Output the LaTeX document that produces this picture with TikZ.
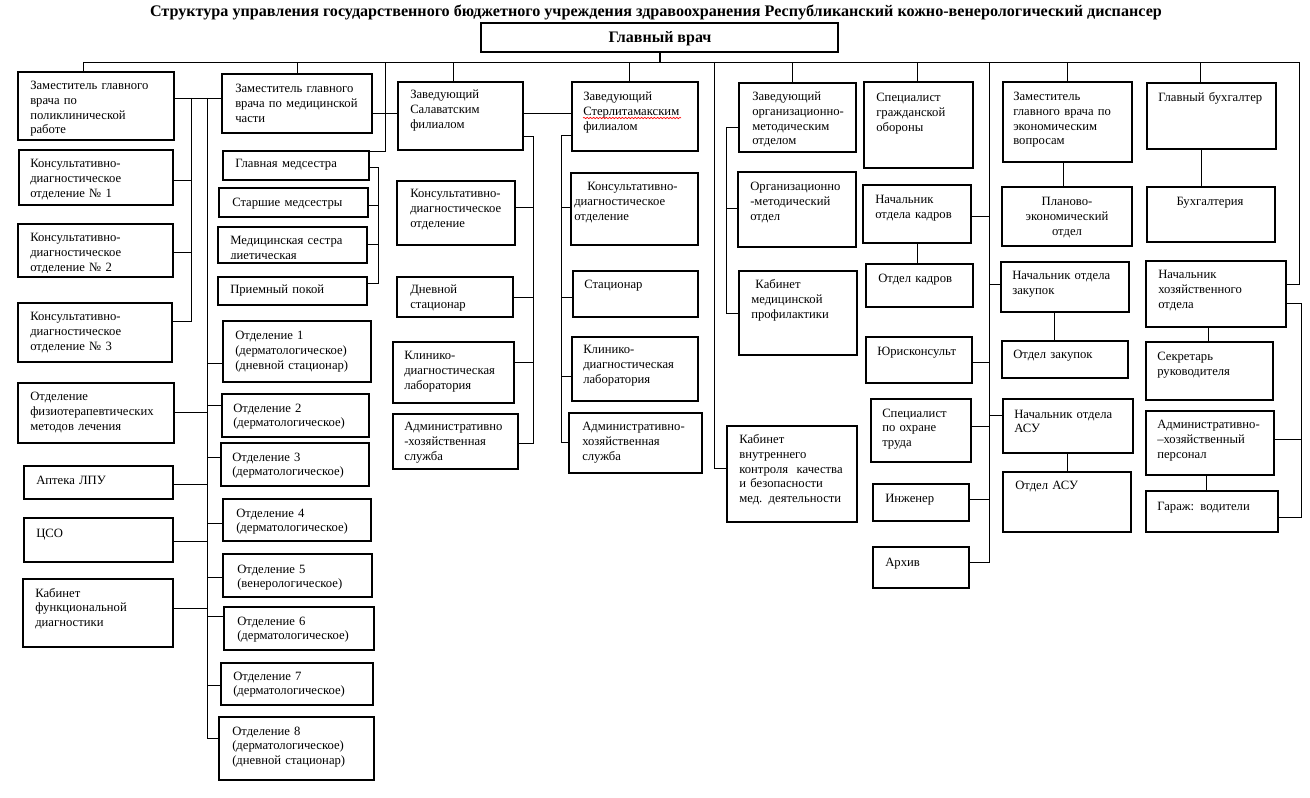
\documentclass[tikz,border=0pt]{standalone}
\usepackage{fontspec}
\setmainfont{Liberation Serif}
\usetikzlibrary{fit,decorations.pathmorphing}
\newcommand\bx[8]{%
  \node[boxs, fit={(#2,#3)(#4,#5)}] (#1) {};
  \begin{scope}
    \clip (#2,#3) rectangle (#4,#5-4);
    \node[txt] at (#2+#6,#3+#7) {#8};
  \end{scope}}
\newcommand\cbx[8]{%
  \node[boxs, fit={(#2,#3)(#4,#5)}] (#1) {};
  \node[ctxt] at (#6,#3+#7) {#8};}
\begin{document}
\begin{tikzpicture}[x=0.75pt,y=-0.75pt,
  boxs/.style={draw=black, line width=0.8pt, inner sep=0pt, outer sep=0pt},
  txt/.style={anchor=base west, inner sep=0pt, align=left, text width=160pt, font=\fontsize{9.5}{10.9}\selectfont},
  ctxt/.style={anchor=base, inner sep=0pt, align=center, text width=90pt, font=\fontsize{9.5}{10.9}\selectfont},
  ln/.style={draw=black, line width=0.7pt}]
\useasboundingbox[fill=white] (0,0) rectangle (1310,798);

% title and chief
\node[anchor=base, inner sep=0pt, font=\fontsize{12.1}{14}\selectfont\bfseries] (title) at (656,17) {Структура управления государственного бюджетного учреждения здравоохранения Республиканский кожно-венерологический диспансер};
\node[boxs, fit={(481,23)(838,52)}] (chief) {};
\node[anchor=base, inner sep=0pt, font=\fontsize{12}{14}\selectfont\bfseries] at (660,43) {Главный врач};

% bus
\coordinate (busL) at (83,62);
\coordinate (busR) at (1299,62);
\draw[ln] (busL) -- (busR);
\draw[line width=2pt] (chief.south -| 660,0) -- (busL -| 660,0);

% ---------- column 1 ----------
\bx{zampol}{18}{72}{174}{140}{12}{18}{Заместитель главного\\врача по\\поликлинической\\работе}
\bx{kdoA}{19}{150}{173}{205}{11}{18}{Консультативно-\\диагностическое\\отделение № 1}
\bx{kdoB}{18}{224}{173}{277}{12}{18}{Консультативно-\\диагностическое\\отделение № 2}
\bx{kdoC}{18}{303}{172}{362}{12}{18}{Консультативно-\\диагностическое\\отделение № 3}
\bx{fizio}{18}{383}{174}{443}{12}{18}{Отделение\\физиотерапевтических\\методов лечения}
\bx{apteka}{24}{466}{173}{499}{12}{18}{Аптека ЛПУ}
\bx{cso}{24}{518}{173}{562}{12}{19}{ЦСО}
\bx{funk}{23}{579}{173}{647}{12}{18}{Кабинет\\функциональной\\диагностики}
\draw[ln] (busL) -- (busL |- zampol.north);

% ---------- column 2 ----------
\bx{zammed}{222}{74}{372}{133}{13}{19}{Заместитель главного\\врача по медицинской\\части}
\bx{glmed}{223}{151}{369}{180}{12}{17}{Главная медсестра}
\bx{starsh}{219}{188}{368}{217}{13}{19}{Старшие медсестры}
\bx{dietsis}{218}{227}{367}{263}{12}{18}{Медицинская сестра\\диетическая}
\bx{priem}{218}{277}{367}{305}{12}{17}{Приемный покой}
\bx{otdA}{223}{321}{371}{382}{12}{19}{Отделение 1\\(дерматологическое)\\(дневной стационар)}
\bx{otdB}{222}{394}{369}{437}{11}{18}{Отделение 2\\(дерматологическое)}
\bx{otdC}{221}{443}{369}{486}{11}{18}{Отделение 3\\(дерматологическое)}
\bx{otdD}{223}{499}{371}{541}{13}{18}{Отделение 4\\(дерматологическое)}
\bx{otdE}{223}{554}{372}{597}{14}{19}{Отделение 5\\(венерологическое)}
\bx{otdF}{224}{607}{374}{650}{13}{18}{Отделение 6\\(дерматологическое)}
\bx{otdG}{221}{663}{373}{705}{12}{17}{Отделение 7\\(дерматологическое)}
\bx{otdH}{219}{717}{374}{780}{13}{18}{Отделение 8\\(дерматологическое)\\(дневной стационар)}
\draw[ln] (zammed.north) -- (zammed.north |- busL);

% connectors columns 1-2
\draw[ln] (zampol.east |- 0,98) -- (zammed.west |- 0,98);
\coordinate (tA) at (191,98);
\coordinate (tAb) at (191,321);
\draw[ln] (tA) -- (tAb) -- (kdoC.east |- tAb);
\draw[ln] (kdoA.east |- 0,180) -- (tA |- 0,180);
\draw[ln] (kdoB.east |- 0,252) -- (tA |- 0,252);
\coordinate (tB) at (207,98);
\coordinate (tBb) at (207,738);
\draw[ln] (tB) -- (tBb) -- (otdH.west |- tBb);
\draw[ln] (fizio.east |- 0,412) -- (tB |- 0,412);
\draw[ln] (apteka.east |- 0,484) -- (tB |- 0,484);
\draw[ln] (cso.east |- 0,541) -- (tB |- 0,541);
\draw[ln] (funk.east |- 0,608) -- (tB |- 0,608);
\draw[ln] (otdA.west |- 0,363) -- (tB |- 0,363);
\draw[ln] (otdB.west |- 0,405) -- (tB |- 0,405);
\draw[ln] (otdC.west |- 0,457) -- (tB |- 0,457);
\draw[ln] (otdD.west |- 0,523) -- (tB |- 0,523);
\draw[ln] (otdE.west |- 0,577) -- (tB |- 0,577);
\draw[ln] (otdF.west |- 0,616) -- (tB |- 0,616);
\draw[ln] (otdG.west |- 0,685) -- (tB |- 0,685);

% head nurse
\coordinate (tC) at (385,62);
\draw[ln] (glmed.north east) -- (tC |- glmed.north east) -- (tC);
\coordinate (tD) at (378,167);
\coordinate (tDb) at (378,283);
\draw[ln] (glmed.east |- tD) -- (tD) -- (tDb) -- (priem.east |- tDb);
\draw[ln] (starsh.east |- 0,205) -- (tD |- 0,205);
\draw[ln] (dietsis.east |- 0,244) -- (tD |- 0,244);

% ---------- column 3 ----------
\bx{salav}{398}{82}{523}{150}{12}{17}{Заведующий\\Салаватским\\филиалом}
\bx{kdoS}{397}{181}{515}{245}{13}{17}{Консультативно-\\диагностическое\\отделение}
\bx{dnevS}{397}{277}{513}{317}{13}{17}{Дневной\\стационар}
\bx{klinS}{393}{342}{514}{403}{11}{18}{Клинико-\\диагностическая\\лаборатория}
\bx{admS}{393}{414}{518}{469}{11}{17}{Административно\\-хозяйственная\\служба}
\draw[ln] (salav.north -| 453,0) -- (busL -| 453,0);
\coordinate (tE) at (533,136);
\coordinate (tEb) at (533,443);
\draw[ln] (salav.east |- tE) -- (tE) -- (tEb) -- (admS.east |- tEb);
\draw[ln] (kdoS.east |- 0,207) -- (tE |- 0,207);
\draw[ln] (dnevS.east |- 0,297) -- (tE |- 0,297);
\draw[ln] (klinS.east |- 0,362) -- (tE |- 0,362);

% ---------- column 4 ----------
\bx{sterl}{572}{82}{698}{151}{11}{19}{Заведующий\\Стерлитамакским\\филиалом}
\draw[red, line width=0.5pt, decorate, decoration={snake, amplitude=0.5pt, segment length=2.4pt}] (583,118) -- (681,118);
\bx{kdoSt}{571}{173}{698}{245}{3}{18}{\hspace*{9.75pt}Консультативно-\\диагностическое\\отделение}
\bx{stacSt}{573}{271}{698}{317}{11}{18}{Стационар}
\bx{klinSt}{572}{337}{698}{401}{11}{17}{Клинико-\\диагностическая\\лаборатория}
\bx{admSt}{569}{413}{702}{473}{13}{18}{Административно-\\хозяйственная\\служба}
\draw[ln] (sterl.north -| 629,0) -- (busL -| 629,0);
\draw[ln] (zammed.east |- 0,113) -- (salav.west |- 0,113);
\draw[ln] (salav.east |- 0,113) -- (sterl.west |- 0,113);
\coordinate (tF) at (561,135);
\coordinate (tFb) at (561,442);
\draw[ln] (sterl.west |- tF) -- (tF) -- (tFb) -- (admSt.west |- tFb);
\draw[ln] (kdoSt.west |- 0,207) -- (tF |- 0,207);
\draw[ln] (stacSt.west |- 0,297) -- (tF |- 0,297);
\draw[ln] (klinSt.west |- 0,376) -- (tF |- 0,376);

% ---------- column 5 ----------
\bx{omoH}{739}{83}{856}{152}{13}{18}{Заведующий\\организационно-\\методическим\\отделом}
\bx{omoD}{738}{172}{856}{247}{12}{19}{Организационно\\-методический\\отдел}
\bx{kabprof}{739}{271}{857}{355}{12}{18}{\ Кабинет\\медицинской\\профилактики}
\bx{kabvk}{727}{426}{857}{522}{12}{18}{Кабинет\\внутреннего\\контроля\ \ качества\\и безопасности\\мед. деятельности}
\draw[ln] (omoH.north -| 792,0) -- (busL -| 792,0);
\coordinate (tG) at (714,62);
\coordinate (tGb) at (714,468);
\draw[ln] (tG) -- (tGb) -- (kabvk.west |- tGb);
\coordinate (tH) at (726,127);
\coordinate (tHb) at (726,313);
\draw[ln] (omoH.west |- tH) -- (tH) -- (tHb) -- (kabprof.west |- tHb);
\draw[ln] (omoD.west |- 0,208) -- (tH |- 0,208);

% ---------- column 6 ----------
\bx{go}{864}{82}{973}{168}{12}{20}{Специалист\\гражданской\\обороны}
\bx{nachK}{863}{185}{971}{243}{12}{19}{Начальник\\отдела кадров}
\bx{otdK}{866}{264}{973}{307}{12}{19}{Отдел кадров}
\bx{yur}{866}{337}{972}{383}{11}{19}{Юрисконсульт}
\bx{ohr}{871}{399}{971}{462}{11}{18}{Специалист\\по охране\\труда}
\bx{inzh}{873}{484}{969}{521}{12}{18}{Инженер}
\bx{arh}{873}{547}{969}{588}{12}{19}{Архив}
\draw[ln] (go.north -| 917,0) -- (busL -| 917,0);
\draw[ln] (nachK.south -| 917,0) -- (otdK.north -| 917,0);

% ---------- column 7 ----------
\bx{zamEk}{1003}{82}{1132}{162}{10}{19}{Заместитель\\главного врача по\\экономическим\\вопросам}
\cbx{plan}{1002}{187}{1132}{246}{1067}{19}{Планово-\\экономический\\отдел}
\bx{nachZ}{1001}{262}{1129}{312}{11}{18}{Начальник отдела\\закупок}
\bx{otdZ}{1002}{341}{1128}{378}{11}{18}{Отдел закупок}
\bx{nachA}{1003}{399}{1133}{453}{11}{19}{Начальник отдела\\АСУ}
\bx{otdAsu}{1003}{472}{1131}{532}{12}{17}{Отдел АСУ}
\draw[ln] (zamEk.north -| 1067,0) -- (busL -| 1067,0);
\draw[ln] (zamEk.south -| 1063,0) -- (plan.north -| 1063,0);
\draw[ln] (nachZ.south -| 1054,0) -- (otdZ.north -| 1054,0);
\draw[ln] (nachA.south -| 1067,0) -- (otdAsu.north -| 1067,0);

% trunk between columns 6 and 7
\coordinate (tI) at (989,62);
\coordinate (tIb) at (989,562);
\draw[ln] (tI) -- (tIb) -- (arh.east |- tIb);
\draw[ln] (nachK.east |- 0,216) -- (tI |- 0,216);
\draw[ln] (yur.east |- 0,362) -- (tI |- 0,362);
\draw[ln] (ohr.east |- 0,426) -- (tI |- 0,426);
\draw[ln] (inzh.east |- 0,499) -- (tI |- 0,499);
\draw[ln] (nachZ.west |- 0,284) -- (tI |- 0,284);
\draw[ln] (nachA.west |- 0,415) -- (tI |- 0,415);

% ---------- column 8 ----------
\bx{glbuh}{1147}{83}{1276}{149}{11}{19}{Главный бухгалтер}
\cbx{buh}{1147}{187}{1275}{242}{1210}{19}{Бухгалтерия}
\bx{nachH}{1146}{261}{1286}{327}{12}{18}{Начальник\\хозяйственного\\отдела}
\bx{sekr}{1146}{342}{1273}{400}{11}{19}{Секретарь\\руководителя}
\bx{admH}{1146}{411}{1274}{475}{11}{18}{Административно-\\–хозяйственный\\персонал}
\bx{garazh}{1146}{491}{1278}{532}{11}{19}{Гараж: водители}
\draw[ln] (glbuh.north -| 1200,0) -- (busL -| 1200,0);
\draw[ln] (glbuh.south -| 1201,0) -- (buh.north -| 1201,0);
\draw[ln] (nachH.south -| 1208,0) -- (sekr.north -| 1208,0);
\draw[ln] (admH.south -| 1206,0) -- (garazh.north -| 1206,0);

% right side
\draw[ln] (busR) -- (busR |- 0,284) -- (nachH.east |- 0,284);
\coordinate (tK) at (1301,303);
\coordinate (tKb) at (1301,517);
\draw[ln] (nachH.east |- tK) -- (tK) -- (tKb) -- (garazh.east |- tKb);
\draw[ln] (admH.east |- 0,439) -- (tK |- 0,439);
\end{tikzpicture}
\end{document}
